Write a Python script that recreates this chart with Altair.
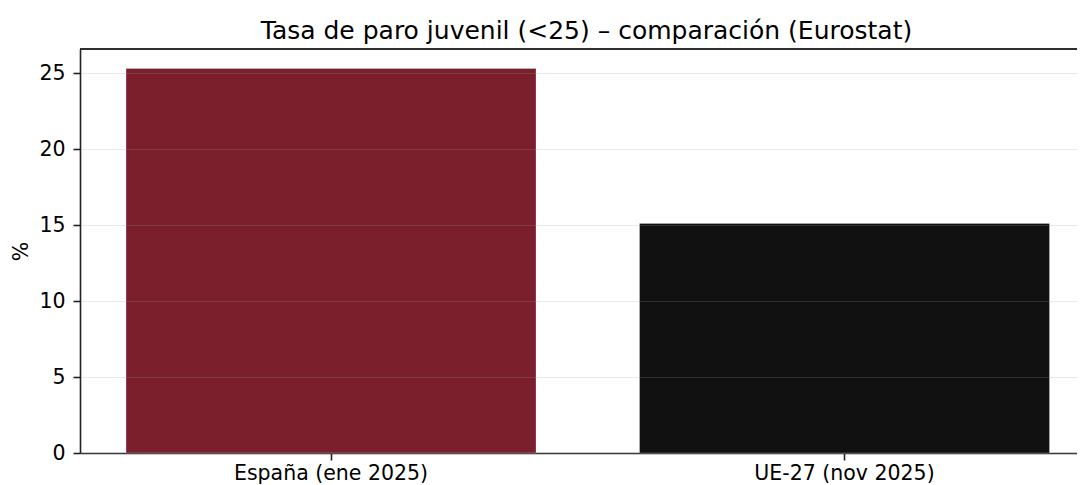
import altair as alt
import pandas as pd

categories = ["España (ene 2025)", "UE-27 (nov 2025)"]
values = [25.3, 15.1]
bar_colors = ["#7b1f2c", "#111111"]
y_ticks = [0, 5, 10, 15, 20, 25]

df = pd.DataFrame({"cat": categories, "val": values, "color": bar_colors})

W = 997
H = 404

x_scale = alt.Scale(domain=categories, paddingInner=0.2016, paddingOuter=0.0716, align=0.626)
y_scale = alt.Scale(domain=[0, 26.58], nice=False, zero=True)

axis_common = dict(labelFontSize=20.5, labelColor="#000000", labelFont="DejaVu Sans",
                   tickSize=7, tickColor="#222222", tickWidth=1.6,
                   domainColor="#222222", domainWidth=1.6, labelLimit=0)

bars = alt.Chart(df).mark_bar(stroke="#ffffff", strokeOpacity=0.25, strokeWidth=1).encode(
    x=alt.X("cat:N", scale=x_scale, sort=categories,
            axis=alt.Axis(title=None, labelAngle=0, labelPadding=3.5, grid=False, **axis_common)),
    y=alt.Y("val:Q", scale=y_scale,
            axis=alt.Axis(title="%", values=y_ticks, titleFont="DejaVu Sans", titleFontSize=20.5,
                          titleFontWeight="normal", titleColor="#000000", titlePadding=7,
                          labelPadding=8,
                          grid=True, gridColor="#999999", gridOpacity=0.22, gridWidth=1.2,
                          zindex=1, **axis_common)),
    color=alt.Color("color:N", scale=None),
)

top_spine = alt.Chart(df).mark_rule(color="#222222", strokeWidth=1.6).encode(
    x=alt.value(0), x2=alt.value(W + 10), y=alt.value(0)
)

chart = alt.layer(bars, top_spine).properties(
    width=W, height=H,
    title=alt.TitleParams("Tasa de paro juvenil (<25) – comparación (Eurostat)",
                          font="DejaVu Sans", fontSize=25, fontWeight="normal",
                          color="#000000", anchor="middle", offset=4.5, dx=8),
    padding={"left": 72, "top": 41, "right": 0, "bottom": 32},
    autosize=alt.AutoSizeParams(type="none"),
).configure_view(stroke=None)

chart.save("out.html", embed_options={"renderer": "svg", "actions": False})
